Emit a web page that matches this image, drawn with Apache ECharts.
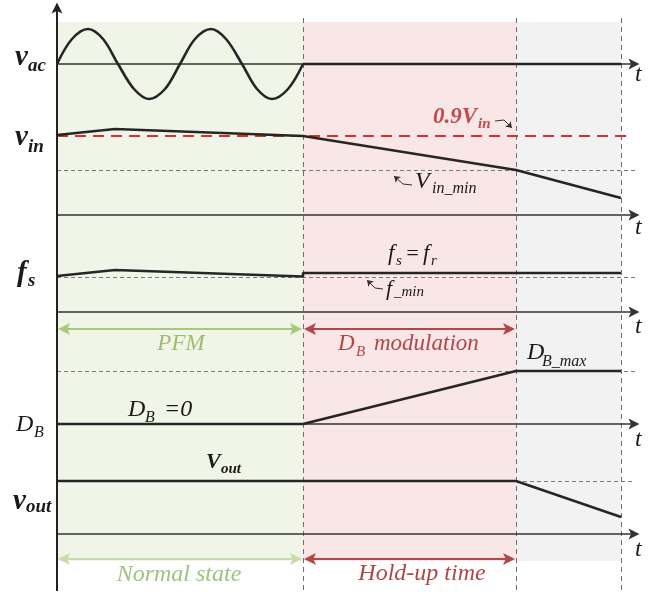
<!DOCTYPE html>
<html><head><meta charset="utf-8">
<script src="https://cdn.jsdelivr.net/npm/echarts@6/dist/echarts.min.js"></script>
<style>html,body{margin:0;padding:0;background:#fff}#c{width:668px;height:594px}</style>
</head><body><div id="c"></div>
<script>
// ---------------- data (time units from origin; signal values relative to each lane's t-axis) ----------------
const phaseTimes = [0, 246, 459, 564];           // start, hold-up begins, D_B reaches max, end
const phaseNames = ['Normal state', 'Hold-up time'];
const modeNames = ['PFM', 'D_B modulation'];
const vacTimes  = [0, 15, 31, 46, 61, 77, 92, 108, 123, 138, 154, 169, 185, 200, 215, 231, 246];
const vacValues = [0, 25, 35, 25, 0, -25, -35, -25, 0, 25, 35, 25, 0, -25, -35, -25, 0];
const vinTimes  = [0, 58, 246, 459, 564];
const vinValues = [80, 86, 79, 45, 17];
const fsTimes   = [0, 58, 246, 246, 564];
const fsValues  = [36, 42, 35.5, 39, 39];
const dbTimes   = [0, 246, 459, 564];
const dbValues  = [0, 0, 53, 53];
const voutTimes = [0, 459, 564];
const voutValues= [53, 53, 17];
const vin09 = 79, vinMin = 45, fMin = 35, dbMax = 53, voutNom = 53;

// ---------------- layout ----------------
const lane = {vac: 64, vin: 215, fs: 312, db: 424, vout: 534};
const axisEndT = 577;
const BG_TOP = 22, BG_BOT = 561, VL_TOP = 18, VL_BOT = 591;
const INK = '#262626';

const pts = (ts, vs, base) => ts.map((t, i) => [t, base - vs[i]]);
const sig = (data, extra) => Object.assign({
  type: 'line', data, showSymbol: false, symbol: 'none', clip: false, z: 10,
  lineStyle: {color: INK, width: 2.6}, animation: false
}, extra || {});
const linesSeries = (segs, style, symbol, size, z) => ({
  type: 'lines', coordinateSystem: 'cartesian2d', z: z || 5, animation: false, silent: true,
  symbol: symbol || ['none', 'none'], symbolSize: size || 10,
  lineStyle: Object.assign({opacity: 1, curveness: 0}, style),
  data: segs.map(c => ({coords: c}))
});
const tipArrow = 'path://M5,0 L10,11 L5,8.5 L0,11 Z';

const series = [];
// backgrounds
series.push({type: 'line', data: [], animation: false, markArea: {silent: true, data: [
  [{xAxis: phaseTimes[0], yAxis: BG_TOP, itemStyle: {color: '#f0f5e8'}}, {xAxis: phaseTimes[1], yAxis: BG_BOT}],
  [{xAxis: phaseTimes[1], yAxis: BG_TOP, itemStyle: {color: '#f9e6e6'}}, {xAxis: phaseTimes[2], yAxis: BG_BOT}],
  [{xAxis: phaseTimes[2], yAxis: BG_TOP, itemStyle: {color: '#f2f2f2'}}, {xAxis: phaseTimes[3], yAxis: BG_BOT}]
]}});
// vertical dashed phase lines
series.push(linesSeries(phaseTimes.slice(1).map(t => [[t, VL_TOP], [t, VL_BOT]]),
  {color: '#6e6e6e', width: 1, type: [5, 4]}, null, null, 3));
// horizontal gray dashed guides
series.push(linesSeries([
  [[0, lane.vin - vinMin], [578, lane.vin - vinMin]],
  [[0, lane.fs - fMin], [578, lane.fs - fMin]],
  [[0, lane.db - dbMax], [578, lane.db - dbMax]],
  [[phaseTimes[2], lane.vout - voutNom], [578, lane.vout - voutNom]]
], {color: '#7a7a7a', width: 1, type: [4, 3]}, null, null, 4));
// t axes
series.push(linesSeries(Object.values(lane).map(y => [[0, y], [axisEndT, y]]),
  {color: '#333', width: 1.5}, ['none', tipArrow], 11, 6));
// vertical axis
series.push(linesSeries([[[0, VL_BOT], [0, 8]]], {color: '#222', width: 2}, ['none', tipArrow], 11, 12));
// red 0.9Vin dashed line
series.push(linesSeries([[[0, lane.vin - vin09], [575, lane.vin - vin09]]],
  {color: '#d8302c', width: 2, type: [11, 7]}, null, null, 9));
// signals
series.push(sig(pts(vacTimes, vacValues, lane.vac), {smooth: 0.35}));
series.push(sig([[phaseTimes[1], lane.vac], [phaseTimes[3], lane.vac]]));
series.push(sig(pts(vinTimes, vinValues, lane.vin), {z: 11}));
series.push(sig(pts(fsTimes, fsValues, lane.fs)));
series.push(sig(pts(dbTimes, dbValues, lane.db)));
series.push(sig(pts(voutTimes, voutValues, lane.vout)));
// interval double arrows
series.push(linesSeries([[[7, 329], [239, 329]]], {color: '#a8c97c', width: 2}, [tipArrow, tipArrow], 12, 8));
series.push(linesSeries([[[253, 329], [452, 329]]], {color: '#b04848', width: 2}, [tipArrow, tipArrow], 12, 8));
series.push(linesSeries([[[7, 559], [239, 559]]], {color: '#c6dcaa', width: 2}, [tipArrow, tipArrow], 12, 8));
series.push(linesSeries([[[253, 559], [452, 559]]], {color: '#b04848', width: 2}, [tipArrow, tipArrow], 12, 8));
// small pointer arrows
series.push(linesSeries([
  [[438, 121], [447, 120]], [[355, 185], [346, 184]], [[326, 289], [318, 288]]
], {color: '#333', width: 1}, null, null, 20));
series.push(linesSeries([
  [[447, 120], [455, 128]], [[346, 184], [337, 176]], [[318, 288], [310, 280]]
], {color: '#333', width: 1}, ['none', 'arrow'], 6, 20));

// ---------------- text ----------------
function T(x, base, text, size, o) {
  o = o || {};
  return {type: 'text', x: x, y: base - 0.34 * size, z: 100, silent: true,
    style: {text: text, fontFamily: '"Liberation Serif", "DejaVu Serif", serif', fontSize: size,
      fontStyle: 'italic', fontWeight: o.b ? 'bold' : 'normal', fill: o.c || '#1a1a1a',
      align: o.a || 'left', verticalAlign: 'middle'}};
}
const RED = '#c64a4a', DRED = '#b04646', GRN = '#9dbd6e', LGRN = '#a3c17f';
const g = [
  T(15, 67, 'v', 29, {b: 1}), T(28, 73, 'ac', 19, {b: 1}),
  T(15, 147, 'v', 29, {b: 1}), T(28, 154, 'in', 19, {b: 1}),
  T(17, 283, 'f', 29, {b: 1}), T(28, 288, 's', 19, {b: 1}),
  T(16, 433, 'D', 24), T(34, 438, 'B', 16),
  T(13, 511, 'v', 29, {b: 1}), T(26, 514, 'out', 19, {b: 1}),
  T(433, 125, '0.9V', 23, {b: 1, c: RED}), T(478, 129, 'in', 15, {b: 1, c: RED}),
  T(415, 190, 'V', 24), T(432, 194, 'in_min', 16),
  T(388, 262, 'f', 23), T(396, 266, 's', 15), T(405, 262, '=', 22), T(423, 262, 'f', 23), T(431, 266, 'r', 15),
  T(386, 297, 'f', 22), T(394, 297, '_min', 15),
  T(181, 352, modeNames[0], 23, {c: GRN, a: 'center'}),
  T(338, 352, 'D', 23, {c: DRED}), T(356, 357, 'B', 15, {c: DRED}), T(374, 352, 'modulation', 23, {c: DRED}),
  T(527, 361, 'D', 24), T(542, 367, 'B_max', 16),
  T(128, 418, 'D', 24), T(145, 423, 'B', 16), T(164, 418, '=0', 24),
  T(206, 470, 'V', 22, {b: 1}), T(221, 474, 'out', 15, {b: 1}),
  T(179, 583, phaseNames[0], 24, {c: LGRN, a: 'center'}),
  T(422, 582, phaseNames[1], 24, {c: DRED, a: 'center'})
];
const tBase = [83, 236, 335, 448, 558];
tBase.forEach(b => g.push(T(635, b, 't', 24)));

const chart = echarts.init(document.getElementById('c'), null, {renderer: 'canvas'});
chart.setOption({
  animation: false,
  grid: {left: 0, right: 0, top: 0, bottom: 0},
  xAxis: {type: 'value', min: -57, max: 611, show: false},
  yAxis: {type: 'value', min: 0, max: 594, inverse: true, show: false},
  series: series,
  graphic: g
});
</script></body></html>
